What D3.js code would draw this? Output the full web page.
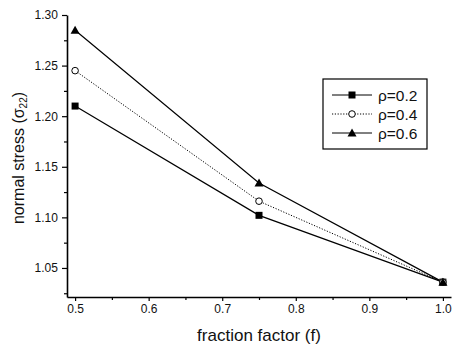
<!DOCTYPE html>
<html>
<head>
<meta charset="utf-8">
<script src="https://cdn.jsdelivr.net/npm/d3@7"></script>
<style>
  body { margin: 0; background: #fff; }
  svg { display: block; font-family: "Liberation Sans", Arial, sans-serif; }
</style>
</head>
<body>
<svg id="chart" width="452" height="347"></svg>
<script>
// fraction factor values
const fractions = [0.5, 0.75, 1.0];

// normal stress per rho
const rho02 = [1.210, 1.102, 1.036];
const rho04 = [1.245, 1.116, 1.036];
const rho06 = [1.285, 1.134, 1.036];

const seriesNames = ["ρ=0.2", "ρ=0.4", "ρ=0.6"];

const xTicks = [0.5, 0.6, 0.7, 0.8, 0.9, 1.0];
const yTicks = [1.05, 1.10, 1.15, 1.20, 1.25, 1.30];

const series = [
  { name: seriesNames[0], values: rho02, marker: "square", dash: null },
  { name: seriesNames[1], values: rho04, marker: "circle", dash: "1.2,1.6" },
  { name: seriesNames[2], values: rho06, marker: "triangle", dash: null }
];

const svg = d3.select("#chart");

// plot area
const plotLeft = 67, plotRight = 451, plotTop = 15, plotBottom = 297;

const x = d3.scaleLinear().domain([0.489, 1.011]).range([plotLeft, plotRight]);
const y = d3.scaleLinear().domain([1.0213, 1.30]).range([plotBottom, plotTop]);

// minor ticks
const xMinor = [0.55, 0.65, 0.75, 0.85, 0.95];
const yMinor = [1.025, 1.075, 1.125, 1.175, 1.225, 1.275];

const xAxis = svg.append("g")
  .attr("transform", `translate(0,${plotBottom})`)
  .call(d3.axisBottom(x).tickValues(xTicks).tickFormat(d3.format(".1f")).tickSize(4).tickSizeOuter(0));

svg.append("g")
  .attr("transform", `translate(0,${plotBottom})`)
  .call(d3.axisBottom(x).tickValues(xMinor).tickFormat("").tickSize(3).tickSizeOuter(0))
  .select(".domain").remove();

const yAxis = svg.append("g")
  .attr("transform", `translate(${plotLeft},0)`)
  .call(d3.axisLeft(y).tickValues(yTicks).tickFormat(d3.format(".2f")).tickSize(5).tickSizeOuter(0));

svg.append("g")
  .attr("transform", `translate(${plotLeft},0)`)
  .call(d3.axisLeft(y).tickValues(yMinor).tickFormat("").tickSize(3).tickSizeOuter(0))
  .select(".domain").remove();

svg.selectAll(".domain").attr("stroke", "#000").attr("stroke-width", 1.6);
svg.selectAll(".tick line").attr("stroke", "#000").attr("stroke-width", 1.2);
svg.selectAll(".tick text").attr("font-size", 12).attr("fill", "#111")
  .attr("font-family", "Liberation Sans, Arial, sans-serif");
yAxis.selectAll(".tick text").attr("dx", "-0.1em");

// axis titles
svg.append("text")
  .attr("x", (x(0.5) + x(1.0)) / 2)
  .attr("y", 341)
  .attr("text-anchor", "middle")
  .attr("font-size", 17)
  .attr("fill", "#111")
  .text("fraction factor (f)");

const yTitle = svg.append("text")
  .attr("transform", `translate(24,158) rotate(-90)`)
  .attr("text-anchor", "middle")
  .attr("font-size", 16)
  .attr("fill", "#111");
yTitle.append("tspan").text("normal stress (");
yTitle.append("tspan").text("σ");
yTitle.append("tspan").attr("font-size", 10).attr("dy", 3).text("22");
yTitle.append("tspan").attr("dy", -3).text(")");

// markers
function drawMarker(g, type, cx, cy) {
  if (type === "square") {
    g.append("rect").attr("x", cx - 3.5).attr("y", cy - 3.5)
      .attr("width", 7).attr("height", 7).attr("fill", "#000");
  } else if (type === "circle") {
    g.append("circle").attr("cx", cx).attr("cy", cy).attr("r", 3.3)
      .attr("fill", "#fff").attr("stroke", "#000").attr("stroke-width", 1);
  } else {
    g.append("path")
      .attr("d", `M${cx},${cy - 4.5}L${cx + 4.5},${cy + 3.5}L${cx - 4.5},${cy + 3.5}Z`)
      .attr("fill", "#000");
  }
}

const line = d3.line()
  .x((d, i) => x(fractions[i]))
  .y(d => y(d));

const plot = svg.append("g");
series.forEach(s => {
  plot.append("path")
    .datum(s.values)
    .attr("d", line)
    .attr("fill", "none")
    .attr("stroke", "#000")
    .attr("stroke-width", s.dash ? 1 : 1.2)
    .attr("stroke-dasharray", s.dash);
});
series.forEach(s => {
  s.values.forEach((v, i) => drawMarker(plot, s.marker, x(fractions[i]), y(v)));
});

// legend
const legend = svg.append("g").attr("transform", "translate(323,79)");
legend.append("rect")
  .attr("width", 104).attr("height", 70)
  .attr("fill", "#fff").attr("stroke", "#000").attr("stroke-width", 1.2);

series.forEach((s, i) => {
  const ly = 16 + i * 19;
  legend.append("line")
    .attr("x1", 9).attr("x2", 49).attr("y1", ly).attr("y2", ly)
    .attr("stroke", "#000").attr("stroke-width", 1)
    .attr("stroke-dasharray", s.dash);
  drawMarker(legend, s.marker, 29, ly);
  legend.append("text")
    .attr("x", 55).attr("y", ly + 5.5)
    .attr("font-size", 15.5)
    .attr("fill", "#111")
    .text(s.name);
});
</script>
</body>
</html>
